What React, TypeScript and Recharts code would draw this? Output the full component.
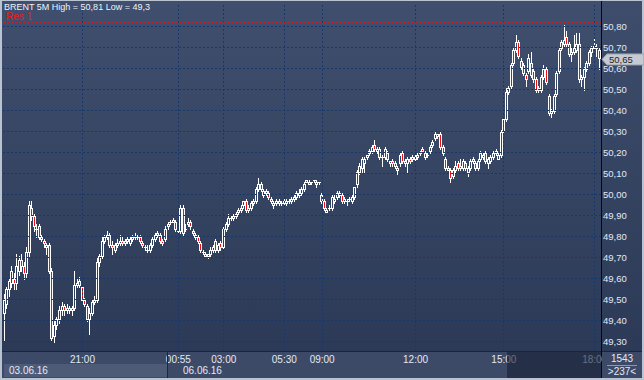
import React from "react";
import {
  Bar,
  ComposedChart,
  ReferenceLine,
  XAxis,
  YAxis,
} from "recharts";

// BRENT 5M candles
const opens = [
  49.44, 49.48, 49.55, 49.58, 49.6, 49.58, 49.64, 49.69, 49.66, 49.63,
  49.73, 49.94, 49.9, 49.84, 49.85, 49.8, 49.78, 49.75, 49.76, 49.64,
  49.33, 49.38, 49.41, 49.45, 49.47, 49.45, 49.46, 49.45, 49.46, 49.57,
  49.59, 49.56, 49.5, 49.47, 49.41, 49.44, 49.49, 49.5, 49.68, 49.71,
  49.78, 49.8, 49.81, 49.76, 49.74, 49.76, 49.77, 49.78, 49.77, 49.78,
  49.77, 49.79, 49.8, 49.8, 49.8, 49.77, 49.75, 49.74, 49.74, 49.76,
  49.79, 49.82, 49.81, 49.78, 49.79, 49.85, 49.87, 49.87, 49.87, 49.83,
  49.83, 49.94, 49.84, 49.86, 49.87, 49.83, 49.81, 49.8, 49.77, 49.73,
  49.72, 49.71, 49.72, 49.74, 49.78, 49.74, 49.77, 49.75, 49.84, 49.86,
  49.89, 49.89, 49.9, 49.92, 49.93, 49.95, 49.97, 49.93, 49.94, 49.96,
  49.97, 50.03, 50.05, 50.0, 50.01, 50.01, 49.98, 49.95, 49.96, 49.97,
  49.96, 49.96, 49.96, 49.97, 49.97, 49.98, 49.99, 50.0, 50.01, 50.03,
  50.06, 50.06, 50.06, 50.07, 50.06, 50.06, 50.0, 49.97, 49.92, 49.94,
  49.94, 49.97, 49.99, 50.01, 50.0, 49.97, 49.97, 49.98, 49.97, 49.99,
  50.05, 50.11, 50.13, 50.15, 50.18, 50.2, 50.21, 50.24, 50.21, 50.22,
  50.18, 50.18, 50.2, 50.15, 50.16, 50.15, 50.12, 50.15, 50.2, 50.15,
  50.15, 50.17, 50.17, 50.17, 50.18, 50.2, 50.22, 50.2, 50.19, 50.21,
  50.24, 50.27, 50.28, 50.29, 50.23, 50.17, 50.13, 50.12, 50.09, 50.12,
  50.15, 50.14, 50.13, 50.15, 50.11, 50.13, 50.17, 50.15, 50.13, 50.17,
  50.18, 50.2, 50.15, 50.16, 50.18, 50.21, 50.17, 50.19, 50.31, 50.36,
  50.49, 50.52, 50.63, 50.69, 50.73, 50.64, 50.62, 50.57, 50.59, 50.63,
  50.59, 50.55, 50.5, 50.5, 50.56, 50.6, 50.47, 50.39, 50.4, 50.48,
  50.59, 50.7, 50.72, 50.75, 50.72, 50.67, 50.68, 50.69, 50.72, 50.55,
  50.56, 50.6, 50.63, 50.68, 50.7, 50.7, 50.69,
];

const highs = [
  49.53, 49.56, 49.6, 49.66, 49.63, 49.72, 49.71, 49.72, 49.68, 49.75,
  49.97, 49.97, 49.91, 49.86, 49.86, 49.81, 49.79, 49.77, 49.77, 49.65,
  49.4, 49.42, 49.47, 49.49, 49.48, 49.48, 49.47, 49.47, 49.64, 49.6,
  49.61, 49.57, 49.51, 49.48, 49.46, 49.5, 49.52, 49.7, 49.72, 49.8,
  49.81, 49.83, 49.82, 49.78, 49.77, 49.79, 49.81, 49.8, 49.79, 49.8,
  49.8, 49.81, 49.82, 49.81, 49.81, 49.78, 49.76, 49.76, 49.77, 49.8,
  49.82, 49.83, 49.82, 49.79, 49.85, 49.87, 49.88, 49.89, 49.88, 49.84,
  49.95, 49.95, 49.86, 49.89, 49.88, 49.84, 49.82, 49.81, 49.78, 49.74,
  49.73, 49.72, 49.75, 49.76, 49.79, 49.77, 49.78, 49.85, 49.87, 49.91,
  49.9, 49.91, 49.92, 49.94, 49.95, 49.97, 49.98, 49.95, 49.97, 49.98,
  50.04, 50.08, 50.06, 50.03, 50.03, 50.02, 49.99, 49.97, 49.98, 49.98,
  49.97, 49.98, 49.98, 49.98, 49.99, 50.0, 50.02, 50.03, 50.04, 50.06,
  50.07, 50.07, 50.06, 50.07, 50.07, 50.06, 50.01, 49.98, 49.94, 49.95,
  50.0, 50.0, 50.02, 50.02, 50.01, 49.99, 49.98, 49.99, 50.0, 50.04,
  50.12, 50.15, 50.18, 50.18, 50.19, 50.22, 50.24, 50.26, 50.23, 50.23,
  50.19, 50.23, 50.21, 50.16, 50.17, 50.16, 50.14, 50.2, 50.21, 50.17,
  50.18, 50.18, 50.19, 50.19, 50.2, 50.21, 50.23, 50.21, 50.2, 50.24,
  50.26, 50.3, 50.29, 50.3, 50.24, 50.18, 50.14, 50.13, 50.13, 50.16,
  50.16, 50.17, 50.17, 50.16, 50.14, 50.17, 50.18, 50.16, 50.17, 50.21,
  50.2, 50.21, 50.18, 50.19, 50.21, 50.22, 50.2, 50.31, 50.37, 50.51,
  50.52, 50.63, 50.7, 50.76, 50.74, 50.65, 50.63, 50.58, 50.67, 50.68,
  50.6, 50.56, 50.52, 50.57, 50.62, 50.61, 50.48, 50.41, 50.48, 50.59,
  50.7, 50.74, 50.81, 50.78, 50.73, 50.7, 50.76, 50.77, 50.77, 50.57,
  50.61, 50.64, 50.69, 50.71, 50.75, 50.72, 50.7,
];

const lows = [
  49.31, 49.46, 49.52, 49.56, 49.55, 49.55, 49.62, 49.64, 49.6, 49.61,
  49.71, 49.88, 49.83, 49.8, 49.79, 49.78, 49.75, 49.72, 49.63, 49.31,
  49.3, 49.36, 49.39, 49.43, 49.43, 49.44, 49.44, 49.43, 49.45, 49.56,
  49.56, 49.49, 49.47, 49.4, 49.34, 49.43, 49.48, 49.49, 49.66, 49.7,
  49.77, 49.79, 49.75, 49.72, 49.73, 49.75, 49.76, 49.76, 49.76, 49.77,
  49.76, 49.78, 49.79, 49.79, 49.77, 49.75, 49.74, 49.73, 49.73, 49.75,
  49.78, 49.8, 49.77, 49.76, 49.78, 49.84, 49.86, 49.87, 49.83, 49.82,
  49.82, 49.81, 49.83, 49.85, 49.84, 49.81, 49.79, 49.77, 49.73, 49.72,
  49.71, 49.7, 49.71, 49.73, 49.73, 49.73, 49.74, 49.74, 49.83, 49.85,
  49.88, 49.88, 49.89, 49.91, 49.92, 49.94, 49.92, 49.92, 49.93, 49.95,
  49.96, 50.02, 50.02, 49.99, 50.0, 49.98, 49.96, 49.94, 49.95, 49.95,
  49.95, 49.95, 49.95, 49.96, 49.96, 49.97, 49.98, 49.99, 50.0, 50.02,
  50.06, 50.05, 50.05, 50.06, 50.04, 50.05, 49.96, 49.93, 49.92, 49.93,
  49.93, 49.96, 49.98, 49.99, 49.96, 49.96, 49.95, 49.97, 49.96, 49.98,
  50.04, 50.1, 50.11, 50.11, 50.17, 50.19, 50.2, 50.21, 50.2, 50.17,
  50.14, 50.17, 50.16, 50.14, 50.14, 50.13, 50.1, 50.14, 50.15, 50.14,
  50.11, 50.15, 50.16, 50.16, 50.17, 50.19, 50.21, 50.17, 50.18, 50.2,
  50.23, 50.26, 50.27, 50.22, 50.19, 50.12, 50.12, 50.06, 50.08, 50.11,
  50.12, 50.12, 50.12, 50.12, 50.09, 50.12, 50.15, 50.12, 50.12, 50.16,
  50.17, 50.15, 50.13, 50.15, 50.17, 50.19, 50.17, 50.18, 50.3, 50.35,
  50.48, 50.51, 50.62, 50.68, 50.65, 50.6, 50.57, 50.52, 50.58, 50.56,
  50.54, 50.49, 50.49, 50.49, 50.55, 50.53, 50.38, 50.37, 50.39, 50.47,
  50.58, 50.69, 50.71, 50.71, 50.66, 50.64, 50.67, 50.68, 50.54, 50.52,
  50.5, 50.59, 50.62, 50.66, 50.69, 50.66, 50.6,
];

const closes = [
  49.5, 49.55, 49.59, 49.64, 49.58, 49.66, 49.69, 49.66, 49.63, 49.73,
  49.95, 49.9, 49.85, 49.84, 49.8, 49.79, 49.77, 49.76, 49.64, 49.32,
  49.38, 49.41, 49.45, 49.47, 49.45, 49.46, 49.45, 49.46, 49.57, 49.58,
  49.57, 49.5, 49.48, 49.41, 49.44, 49.49, 49.5, 49.68, 49.71, 49.78,
  49.8, 49.81, 49.76, 49.75, 49.76, 49.77, 49.78, 49.77, 49.78, 49.79,
  49.79, 49.8, 49.8, 49.8, 49.78, 49.76, 49.75, 49.74, 49.76, 49.79,
  49.81, 49.81, 49.78, 49.77, 49.84, 49.86, 49.87, 49.88, 49.84, 49.83,
  49.94, 49.82, 49.84, 49.87, 49.85, 49.82, 49.8, 49.78, 49.74, 49.73,
  49.71, 49.72, 49.74, 49.75, 49.74, 49.76, 49.75, 49.84, 49.86, 49.89,
  49.89, 49.9, 49.91, 49.93, 49.94, 49.97, 49.93, 49.94, 49.96, 49.97,
  50.03, 50.05, 50.03, 50.02, 50.02, 49.99, 49.97, 49.96, 49.97, 49.96,
  49.96, 49.97, 49.97, 49.97, 49.98, 49.99, 50.01, 50.01, 50.03, 50.05,
  50.07, 50.05, 50.06, 50.07, 50.05, 50.06, 49.97, 49.94, 49.93, 49.94,
  49.99, 49.98, 50.01, 50.0, 49.97, 49.98, 49.97, 49.98, 49.99, 50.04,
  50.11, 50.14, 50.17, 50.17, 50.19, 50.21, 50.23, 50.22, 50.22, 50.18,
  50.18, 50.22, 50.17, 50.16, 50.15, 50.14, 50.13, 50.19, 50.16, 50.16,
  50.17, 50.16, 50.18, 50.18, 50.19, 50.2, 50.21, 50.18, 50.19, 50.23,
  50.25, 50.29, 50.29, 50.23, 50.2, 50.13, 50.12, 50.08, 50.12, 50.14,
  50.13, 50.13, 50.16, 50.13, 50.13, 50.16, 50.16, 50.13, 50.16, 50.2,
  50.19, 50.16, 50.17, 50.18, 50.2, 50.2, 50.19, 50.3, 50.36, 50.49,
  50.51, 50.62, 50.69, 50.73, 50.66, 50.61, 50.58, 50.55, 50.65, 50.57,
  50.55, 50.5, 50.51, 50.56, 50.6, 50.54, 50.39, 50.4, 50.47, 50.58,
  50.69, 50.73, 50.74, 50.72, 50.67, 50.68, 50.7, 50.72, 50.55, 50.56,
  50.6, 50.63, 50.68, 50.7, 50.71, 50.7, 50.65,
];

// time axis: candle index where each label sits
const timeTickIdx = [31, 69, 87, 111, 126, 163, 198, 234];
const timeTickLabels = ["21:00", "00:55", "03:00", "05:30", "09:00", "12:00", "15:00", "18:00"];
const dateStartIdx = [0, 65];
const dateLabels = ["03.06.16", "06.06.16"];
const priceTicks = [49.3, 49.4, 49.5, 49.6, 49.7, 49.8, 49.9, 50.0, 50.1, 50.2, 50.3, 50.4, 50.5, 50.6, 50.7, 50.8];
const resistanceLevel = 50.82;
const totalBars = 1543;
const visibleBars = 237;
const titleText = "BRENT 5M High = 50,81 Low = 49,3";

const data = closes.map((c, i) => ({
  i,
  o: opens[i],
  h: highs[i],
  l: lows[i],
  c,
  range: [lows[i], highs[i]],
}));

const FONT = "'Liberation Sans', Arial, sans-serif";
const TEXT = "#e2e9f6";
const GRID = "#17386a";

const fmt = (v: number) => v.toFixed(2).replace(".", ",");

function Candle(props: any) {
  const { x, y, width, height, payload } = props;
  const { o, h, l, c } = payload;
  if (height == null || isNaN(y)) return null;
  const ppu = height / (h - l || 1);
  const yOf = (v: number) => y + (h - v) * ppu;
  const cx = Math.round(x + width / 2) - 1;
  const top = Math.round(yOf(Math.max(o, c)));
  const bot = Math.round(yOf(Math.min(o, c)));
  const yH = Math.round(y);
  const yL = Math.round(y + height);
  const down = c < o;
  const wx = cx + 0.5;
  return (
    <g shapeRendering="crispEdges">
      {yH < top && <line x1={wx} x2={wx} y1={yH} y2={top} stroke="#fff" />}
      {yL > bot && <line x1={wx} x2={wx} y1={bot} y2={yL + 1} stroke="#fff" />}
      {bot - top >= 1 ? (
        <rect
          x={cx - 0.5}
          y={top + 0.5}
          width={2}
          height={bot - top}
          fill={down ? "#f01010" : "none"}
          stroke="#fff"
        />
      ) : (
        <line x1={cx - 1} x2={cx + 2} y1={top + 0.5} y2={top + 0.5} stroke="#fff" />
      )}
    </g>
  );
}

function TimeTick(props: any) {
  const { x, y, payload } = props;
  const k = timeTickIdx.indexOf(payload.value);
  if (k < 0) return null;
  return (
    <text x={x} y={y + 12} textAnchor="middle" fill={TEXT} fontSize={10} fontFamily={FONT}>
      {timeTickLabels[k]}
    </text>
  );
}

function DateTick(props: any) {
  const { x, y, payload } = props;
  const k = dateStartIdx.indexOf(payload.value);
  if (k < 0) return null;
  const half = payload.offset || 0;
  const left = x - half;
  const next = dateStartIdx[k + 1];
  const boxW = next != null ? (next - dateStartIdx[k]) * half * 2 : 0;
  return (
    <g>
      {k === 0 && <rect x={left + 1} y={y} width={boxW - 1} height={13} fill="#4d5b78" />}
      {k > 0 && (
        <line x1={left + 0.5} x2={left + 0.5} y1={y - 13} y2={y + 14} stroke="#1c2843" />
      )}
      <text
        x={left + (k === 0 ? 6 : 16)}
        y={y + 10}
        fill={TEXT}
        fontSize={10}
        fontFamily={FONT}
      >
        {dateLabels[k]}
      </text>
    </g>
  );
}

function PriceTick(props: any) {
  const { x, y, payload } = props;
  return (
    <text x={x + 2} y={y + 3.5} fill={TEXT} fontSize={9.5} fontFamily={FONT}>
      {fmt(payload.value)}
    </text>
  );
}

function PriceTag(props: any) {
  const vb = props.viewBox || {};
  const x0 = vb.x + vb.width + 1;
  const yc = vb.y + 1;
  return (
    <g>
      <polygon
        points={`${x0},${yc} ${x0 + 5},${yc - 5.5} ${x0 + 42},${yc - 5.5} ${x0 + 42},${yc + 5.5} ${x0 + 5},${yc + 5.5}`}
        fill="#c6cad2"
        stroke="#9aa2ae"
      />
      <text x={x0 + 7} y={yc + 3.5} fill="#1a1f2a" fontSize={9.5} fontFamily={FONT}>
        {fmt(closes[closes.length - 1])}
      </text>
    </g>
  );
}

export default function App() {
  return (
    <div
      style={{
        position: "absolute",
        left: 0,
        top: 0,
        width: 644,
        height: 380,
        overflow: "hidden",
        background: "#b9c3d1",
        fontFamily: FONT,
      }}
    >
      {/* panels */}
      <div style={{ position: "absolute", left: 2, top: 1, width: 599, height: 350, background: "linear-gradient(#3f4f6d, #2c3a57)" }} />
      <div style={{ position: "absolute", left: 602, top: 1, width: 40, height: 350, background: "linear-gradient(#3d4d6b, #2c3a57)" }} />
      <div style={{ position: "absolute", left: 2, top: 351, width: 640, height: 1, background: "#1b2438" }} />
      <div style={{ position: "absolute", left: 2, top: 352, width: 599, height: 26, background: "#3c4a67" }} />
      <div style={{ position: "absolute", left: 601, top: 1, width: 1, height: 377, background: "#05070c" }} />

      <div style={{ position: "absolute", left: 0, top: 0 }}>
        <ComposedChart
          width={644}
          height={380}
          data={data}
          margin={{ top: 3, right: 2, left: 3, bottom: 2 }}
          barCategoryGap={0}
          barGap={0}
        >
          {priceTicks.map((t) => (
            <ReferenceLine
              key={"h" + t}
              y={t}
              stroke={GRID}
              strokeDasharray="2 2"
              shapeRendering="crispEdges"
            />
          ))}
          {timeTickIdx.map((t) => (
            <ReferenceLine
              key={"v" + t}
              x={t}
              stroke={GRID}
              strokeDasharray="2 2"
              shapeRendering="crispEdges"
            />
          ))}
          <XAxis
            dataKey="i"
            type="category"
            ticks={timeTickIdx}
            interval={0}
            height={13}
            axisLine={false}
            tickLine={false}
            tickSize={0}
            tickMargin={0}
            tick={<TimeTick />}
          />
          <XAxis
            xAxisId="date"
            dataKey="i"
            type="category"
            ticks={dateStartIdx}
            interval={0}
            height={14}
            axisLine={false}
            tickLine={false}
            tickSize={0}
            tickMargin={0}
            tick={<DateTick />}
          />
          <YAxis
            orientation="right"
            type="number"
            domain={[49.257, 50.914]}
            allowDataOverflow
            ticks={priceTicks}
            interval={0}
            width={41}
            axisLine={false}
            tickLine={false}
            tickSize={0}
            tickMargin={0}
            tick={<PriceTick />}
          />
          <ReferenceLine
            y={resistanceLevel}
            stroke="#c4202c"
            strokeDasharray="2 2"
            shapeRendering="crispEdges"
            label={{ value: "Res 1", position: "insideBottomLeft", offset: 3, fill: "#f01818", fontSize: 10, fontFamily: FONT }}
          />
          <Bar dataKey="range" shape={(p: any) => <Candle {...p} />} isAnimationActive={false} />
          <ReferenceLine
            y={closes[closes.length - 1]}
            stroke="none"
            label={(p: any) => <PriceTag {...p} />}
          />
        </ComposedChart>
      </div>

      {/* dimmed zone at the right end of the time axis */}
      <div style={{ position: "absolute", left: 507, top: 352, width: 94, height: 26, background: "rgba(24,33,54,0.62)" }} />
      {/* bar counter */}
      <div style={{ position: "absolute", left: 602, top: 352, width: 40, height: 26, background: "#3c4a67", color: TEXT, fontSize: 10, textAlign: "center", lineHeight: "12px" }}>
        <div style={{ marginTop: 1 }}>{totalBars}</div>
        <div style={{ margin: "0 5px", borderTop: "1px solid #8d98ac" }} />
        <div>{">" + visibleBars + "<"}</div>
      </div>
      <div style={{ position: "absolute", left: 4, top: 2, color: "#eef3fb", fontSize: 9, lineHeight: "10px", whiteSpace: "nowrap" }}>
        {titleText}
      </div>
    </div>
  );
}
